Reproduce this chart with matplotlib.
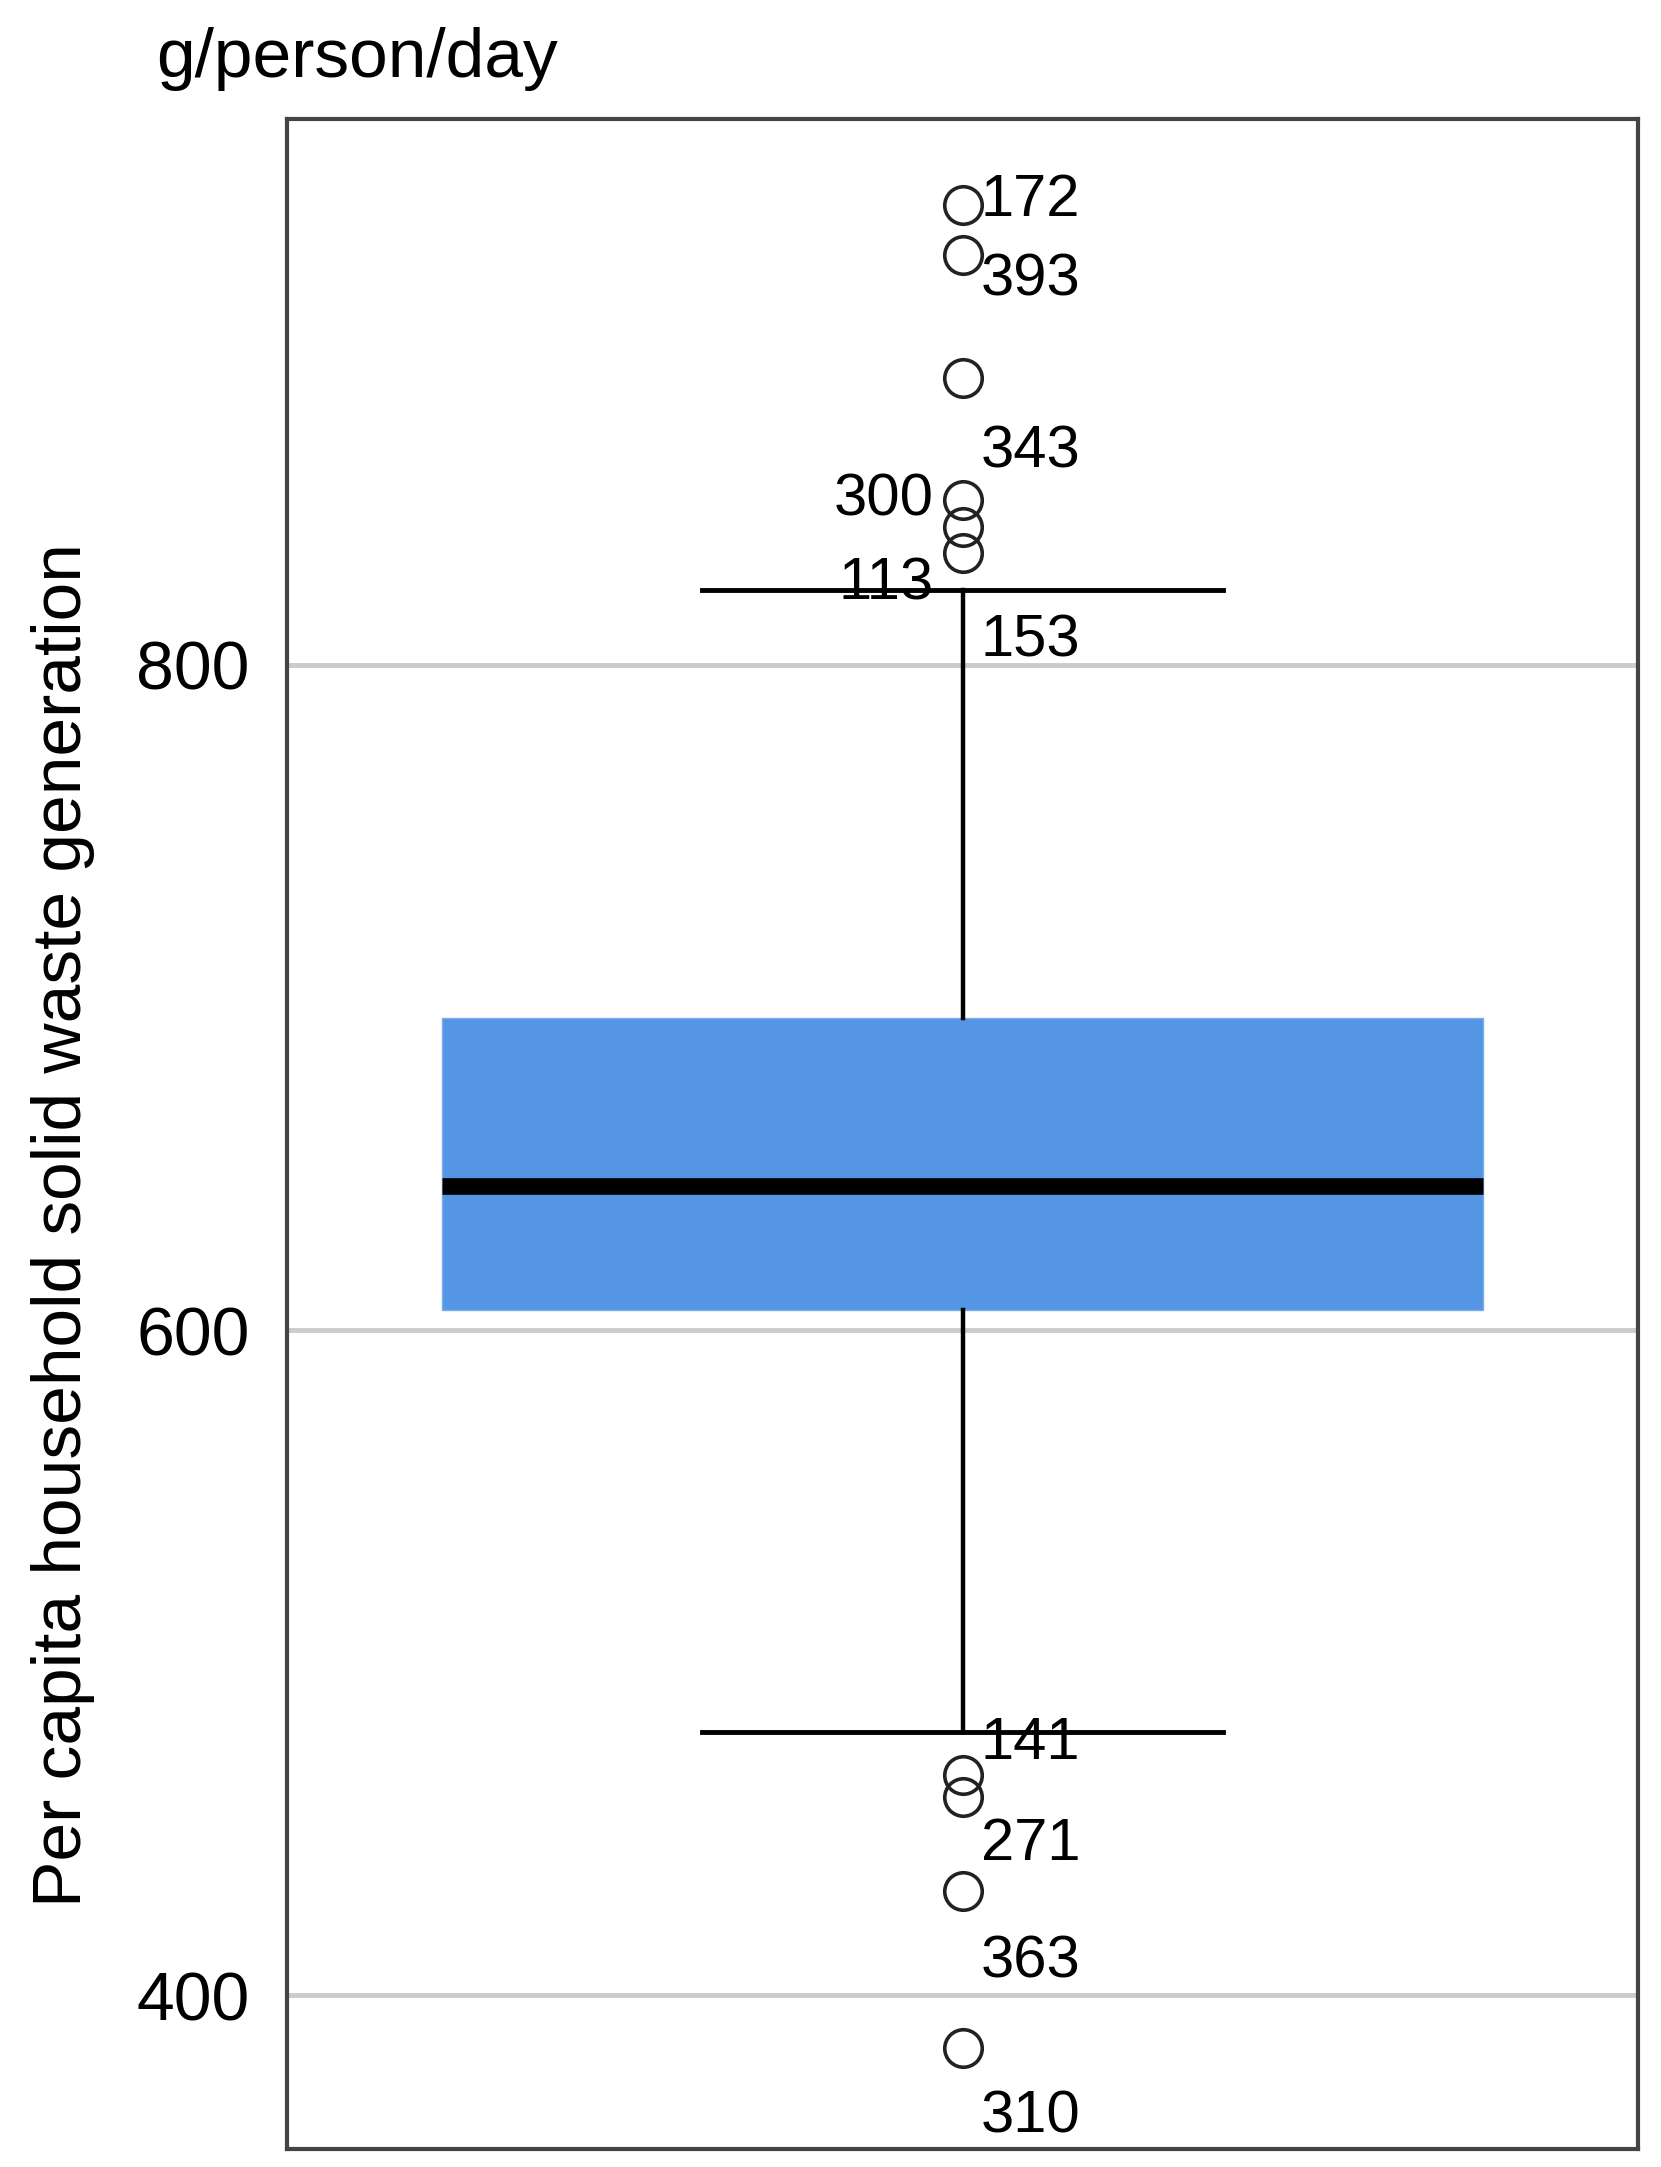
import numpy as np
import matplotlib
matplotlib.use("Agg")
import matplotlib.pyplot as plt

plt.rcParams['font.family'] = ['Liberation Sans', 'DejaVu Sans']

#Box summary (g/person/day)
q1 = 606.0
median = 643.4
q3 = 693.7
whisker_low = 479.1
whisker_high = 822.6

#Outliers and their case ids
outlier_values = [938.3, 923.3, 886.3, 849.6, 841.5, 833.7, 466.3, 459.6, 431.3, 384.0]
outlier_ids = [172, 393, 343, 300, 153, 113, 141, 271, 363, 310]

y_ticks = [400, 600, 800]
y_label = "Per capita household solid waste generation"
unit_label = "g/person/day"

#Label placement (pixel offsets from the marker, +y up), kept apart from the data
label_side = ['r', 'r', 'r', 'l', 'r', 'l', 'r', 'r', 'r', 'r']
label_dy = [5, -25, -74, 0, -114, -31, 31, -48, -71, -69]

fig = plt.figure(figsize=(16.61, 21.67), dpi=100)
ax = fig.add_axes([287/1661, 18/2167, (1638-287)/1661, (2149-119)/2167])

stats = [dict(med=median, q1=q1, q3=q3, whislo=whisker_low, whishi=whisker_high,
              fliers=outlier_values)]
ax.bxp(stats, positions=[0], widths=0.77, capwidths=0.385, patch_artist=True,
       boxprops=dict(facecolor='#5596e4', edgecolor='#7aaeea', linewidth=1),
       medianprops=dict(color='black', linewidth=12, solid_capstyle='butt'),
       whiskerprops=dict(color='black', linewidth=3.2),
       capprops=dict(color='black', linewidth=3.5),
       flierprops=dict(marker='o', markerfacecolor='none', markeredgecolor='#222222',
                       markersize=27, markeredgewidth=2.6),
       zorder=3)

for v, i, side, dy in zip(outlier_values, outlier_ids, label_side, label_dy):
    if side == 'r':
        dx, ha = 18, 'left'
    else:
        dx, ha = -29, 'right'
    ax.annotate(str(i), xy=(0, v), xytext=(dx, dy), textcoords='offset pixels',
                ha=ha, va='center', fontsize=43, color='black', zorder=5)

ax.set_xlim(-0.5, 0.5)
ax.set_ylim(353.7, 964.2)
ax.set_yticks(y_ticks)
ax.set_yticklabels([str(t) for t in y_ticks])
ax.set_xticks([])
ax.tick_params(axis='y', length=0, pad=27, labelsize=49)
ax.grid(axis='y', color='#cbcbcb', linewidth=3.5, zorder=0)
ax.set_axisbelow(True)
for s in ax.spines.values():
    s.set_color('#444444')
    s.set_linewidth(3)

ax.set_ylabel(y_label, fontsize=50)
ax.yaxis.set_label_coords(-0.142, 0.455)

fig.text(156/1661, 1 - 77/2167, unit_label, fontsize=50, ha='left', va='baseline')

fig.savefig("out.png", dpi=100)
